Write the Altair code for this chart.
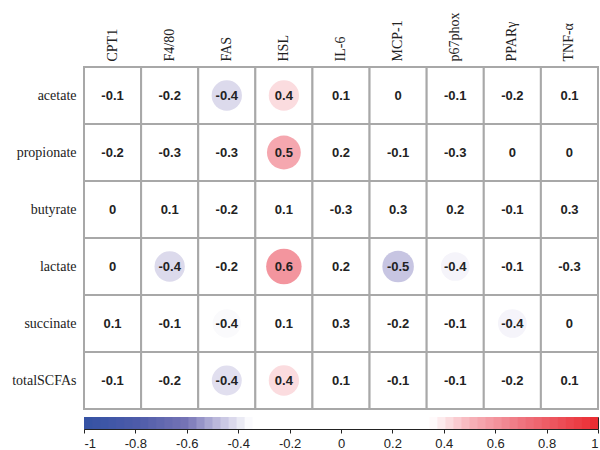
import altair as alt
import pandas as pd

# Correlation matrix: SCFAs (rows) vs. gene / marker expression (columns)
rows = ["acetate", "propionate", "butyrate", "lactate", "succinate", "totalSCFAs"]
cols = ["CPT1", "F4/80", "FAS", "HSL", "IL-6", "MCP-1", "p67phox", "PPARγ", "TNF-α"]

r_acetate = [-0.1, -0.2, -0.42, 0.42, 0.1, 0.0, -0.1, -0.2, 0.1]
r_propionate = [-0.2, -0.3, -0.3, 0.54, 0.2, -0.1, -0.3, 0.0, 0.0]
r_butyrate = [0.0, 0.1, -0.2, 0.1, -0.3, 0.3, 0.2, -0.1, 0.3]
r_lactate = [0.0, -0.42, -0.2, 0.6, 0.2, -0.46, -0.37, -0.1, -0.3]
r_succinate = [0.1, -0.1, -0.36, 0.1, 0.3, -0.2, -0.1, -0.37, 0.0]
r_total = [-0.1, -0.2, -0.41, 0.42, 0.1, -0.1, -0.1, -0.2, 0.1]

matrix_values = [r_acetate, r_propionate, r_butyrate, r_lactate, r_succinate, r_total]

# colour bar tick positions
bar_ticks = [-1, -0.8, -0.6, -0.4, -0.2, 0, 0.2, 0.4, 0.6, 0.8, 1]

records = []
for acid, vals in zip(rows, matrix_values):
    for gene, r in zip(cols, vals):
        records.append({
            "acid": acid,
            "gene": gene,
            "r": r,
            "absr": abs(r),
            "label": f"{round(r, 1):g}",
        })
df = pd.DataFrame(records)

color_scale = alt.Scale(
    domain=[-1, -0.8, -0.6, -0.5, -0.35, 0.35, 0.5, 0.7, 1],
    range=["#3452a4", "#4c5ba9", "#7674b6", "#b3b0d7", "#ffffff",
           "#ffffff", "#f7b4bb", "#ef7580", "#ea2a30"],
    interpolate="rgb",
)

band = alt.Scale(paddingInner=0, paddingOuter=0)

base = alt.Chart(df).encode(
    x=alt.X("gene:N", sort=cols, scale=band, title=None,
            axis=alt.Axis(orient="top", labelAngle=-90, labelFont="Liberation Serif",
                          labelFontSize=14, labelColor="#222", labelPadding=6,
                          domain=False, ticks=False, grid=False)),
    y=alt.Y("acid:N", sort=rows, scale=band, title=None,
            axis=alt.Axis(labelFont="Liberation Serif", labelFontSize=14,
                          labelColor="#222", labelPadding=8,
                          domain=False, ticks=False, grid=False)),
)

cells = base.mark_rect(fill="white", stroke="#a8a8a8", strokeWidth=2)

dots = base.mark_circle(opacity=1).encode(
    size=alt.Size("absr:Q", scale=alt.Scale(domain=[0, 1], range=[125, 2012]), legend=None),
    color=alt.Color("r:Q", scale=color_scale, legend=None),
).transform_filter("abs(datum.r) >= 0.35")

labels = base.mark_text(font="Liberation Sans", fontWeight="bold", fontSize=13,
                        color="#222").encode(text="label:N")

matrix = alt.layer(cells, dots, labels).properties(
    width=514, height=342, view=alt.ViewBackground(strokeWidth=0)
)

# colour bar: small steps, each slightly overlapping the next to avoid seams
step = 1 / 32
colorbar = alt.Chart(alt.sequence(-1, 1, step, as_="v")).transform_calculate(
    v2=f"min(datum.v + {step * 1.5}, 1)", mid=f"datum.v + {step / 2}"
).mark_rect(clip=True).encode(
    x=alt.X("v:Q", scale=alt.Scale(domain=[-1, 1], nice=False, zero=False), title=None,
            axis=alt.Axis(values=bar_ticks, tickSize=4, tickColor="#222", domain=False,
                          grid=False, labelFont="Liberation Sans", labelFontSize=13,
                          labelColor="#222", labelPadding=4,
                          labelExpr="replace(format(datum.value, '.1~f'), '\u2212', '-')")),
    x2="v2:Q",
    color=alt.Color("mid:Q", scale=color_scale, legend=None),
).properties(
    width=514, height=12, view=alt.ViewBackground(stroke="#222", strokeWidth=1)
)

chart = alt.vconcat(matrix, colorbar, spacing=6).resolve_scale(
    color="independent"
).properties(
    padding={"left": 11, "top": 12, "right": 0, "bottom": 0},
    background="white",
)

chart.save("out.html", embed_options={"renderer": "svg", "actions": False})
